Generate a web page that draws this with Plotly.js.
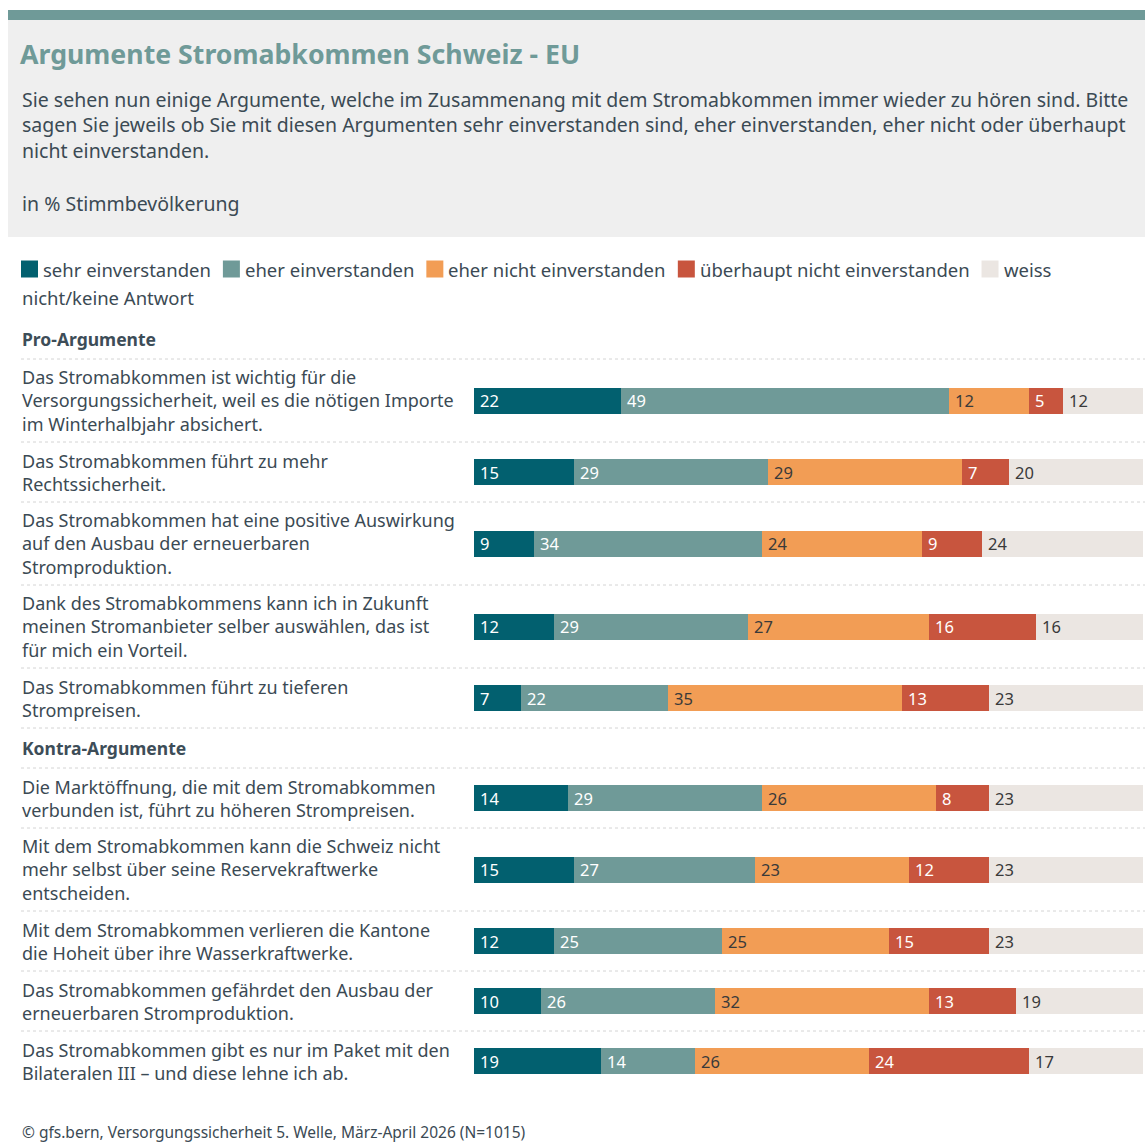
<!DOCTYPE html>
<html><head><meta charset="utf-8">
<script src="https://cdn.plot.ly/plotly-3.0.1.min.js"></script>
<style>html,body{margin:0;padding:0;background:#fff}#chart{width:1145px;height:1144px}</style>
</head><body><div id="chart"></div>
<script>
// ---------------- DATA ----------------
const chartTitle = "Argumente Stromabkommen Schweiz - EU";
const subtitle = "Sie sehen nun einige Argumente, welche im Zusammenang mit dem Stromabkommen immer wieder zu hören sind. Bitte<br>sagen Sie jeweils ob Sie mit diesen Argumenten sehr einverstanden sind, eher einverstanden, eher nicht oder überhaupt<br>nicht einverstanden.";
const unitNote = "in % Stimmbevölkerung";
const sourceNote = "© gfs.bern, Versorgungssicherheit 5. Welle, März-April 2026 (N=1015)";
const groupNames = ["Pro-Argumente", "Kontra-Argumente"];
const proArguments = [
  "Das Stromabkommen ist wichtig für die<br>Versorgungssicherheit, weil es die nötigen Importe<br>im Winterhalbjahr absichert.",
  "Das Stromabkommen führt zu mehr<br>Rechtssicherheit.",
  "Das Stromabkommen hat eine positive Auswirkung<br>auf den Ausbau der erneuerbaren<br>Stromproduktion.",
  "Dank des Stromabkommens kann ich in Zukunft<br>meinen Stromanbieter selber auswählen, das ist<br>für mich ein Vorteil.",
  "Das Stromabkommen führt zu tieferen<br>Strompreisen."
];
const kontraArguments = [
  "Die Marktöffnung, die mit dem Stromabkommen<br>verbunden ist, führt zu höheren Strompreisen.",
  "Mit dem Stromabkommen kann die Schweiz nicht<br>mehr selbst über seine Reservekraftwerke<br>entscheiden.",
  "Mit dem Stromabkommen verlieren die Kantone<br>die Hoheit über ihre Wasserkraftwerke.",
  "Das Stromabkommen gefährdet den Ausbau der<br>erneuerbaren Stromproduktion.",
  "Das Stromabkommen gibt es nur im Paket mit den<br>Bilateralen III – und diese lehne ich ab."
];
const seriesNames = ["sehr einverstanden", "eher einverstanden", "eher nicht einverstanden", "überhaupt nicht einverstanden", "weiss nicht/keine Antwort"];
const sehrEinverstanden      = [22, 15,  9, 12,  7, 14, 15, 12, 10, 19];
const eherEinverstanden      = [49, 29, 34, 29, 22, 29, 27, 25, 26, 14];
const eherNichtEinverstanden = [12, 29, 24, 27, 35, 26, 23, 25, 32, 26];
const ueberhauptNicht        = [ 5,  7,  9, 16, 13,  8, 12, 15, 13, 24];
const weissNicht             = [12, 20, 24, 16, 23, 23, 23, 23, 19, 17];

// ---------------- STYLE ----------------
const W = 1145, H = 1144;
const FONT = "'Noto Sans', Roboto, sans-serif";
const TEXT = "#3b4a54";
const colors = ["#02606f", "#6f9a98", "#f29d55", "#c8553e", "#ebe6e2"];
const labelColors = ["#ffffff", "#ffffff", "#3a3a3a", "#ffffff", "#3a3a3a"];
const series = [sehrEinverstanden, eherEinverstanden, eherNichtEinverstanden, ueberhauptNicht, weissNicht];
const px = v => v / W;

// ---------------- LAYOUT COMPUTATION ----------------
const groups = [proArguments, kontraArguments];
const LINE = 23, PAD = 14, HEAD = 40;
let cur = 319;
const rowY = [], rowLabels = [], sepY = [], headY = [];
groups.forEach((g, gi) => {
  headY.push(cur + HEAD / 2);
  cur += HEAD;
  sepY.push(cur);
  g.forEach((lab, i) => {
    const lines = lab.split("<br>").length;
    const h = LINE * lines + PAD;
    rowY.push(cur + h / 2);
    rowLabels.push(lab);
    cur += h;
    const last = gi === groups.length - 1 && i === g.length - 1;
    if (!last) sepY.push(cur);
  });
});

const shapes = [];
const annotations = [];
shapes.push({type: "rect", xref: "paper", yref: "y", x0: px(8), x1: 1, y0: 10, y1: 20, fillcolor: "#6f9a98", line: {width: 0}, layer: "below"});
shapes.push({type: "rect", xref: "paper", yref: "y", x0: px(8), x1: 1, y0: 20, y1: 237, fillcolor: "#efefef", line: {width: 0}, layer: "below"});
sepY.forEach(y => shapes.push({type: "line", xref: "paper", yref: "y", x0: px(21), x1: 1, y0: y, y1: y, line: {color: "#d4d4d4", width: 1, dash: "dot"}, layer: "below"}));

const ann = (o) => Object.assign({showarrow: false, xref: "paper", yref: "y", xanchor: "left", yanchor: "middle", align: "left", borderpad: 0}, o);
annotations.push(ann({x: px(19), y: 53, text: "<b>" + chartTitle + "</b>", font: {family: FONT, size: 26.7, color: "#6f9a98"}}));
annotations.push(ann({x: px(21), y: 125, text: subtitle, font: {family: FONT, size: 19.5, color: TEXT}}));
annotations.push(ann({x: px(21), y: 203, text: unitNote, font: {family: FONT, size: 19.5, color: TEXT}}));
annotations.push(ann({x: px(21), y: 1132, text: sourceNote, font: {family: FONT, size: 15.5, color: TEXT}}));
groupNames.forEach((g, i) => annotations.push(ann({x: px(21), y: headY[i], text: "<b>" + g + "</b>", font: {family: FONT, size: 17.5, color: "#3d4d58"}})));
rowLabels.forEach((lab, i) => annotations.push(ann({x: px(21), y: rowY[i], text: lab, font: {family: FONT, size: 18, color: TEXT}})));

// custom legend (flow with wrapping)
const LEG_SIZE = 18.5;
const ctx = document.createElement("canvas").getContext("2d");
ctx.font = LEG_SIZE + "px 'Noto Sans'";
const measure = t => ctx.measureText(t).width;
let lx = 21, ly = 269;
const LEG_RIGHT = 1140, SQ = 17, GAP = 4, ITEM_GAP = 13, LEG_LINE = 28;
seriesNames.forEach((name, si) => {
  if (lx + SQ + GAP + measure(name.split(" ")[0]) > LEG_RIGHT) { lx = 21; ly += LEG_LINE; }
  shapes.push({type: "rect", xref: "paper", yref: "y", x0: px(lx), x1: px(lx + SQ), y0: ly - SQ / 2, y1: ly + SQ / 2, fillcolor: colors[si], line: {width: 0}});
  lx += SQ + GAP;
  let lineText = "";
  let startX = lx;
  name.split(" ").forEach(word => {
    const candidate = lineText ? lineText + " " + word : word;
    if (startX + measure(candidate) > LEG_RIGHT && lineText) {
      annotations.push(ann({x: px(startX), y: ly, text: lineText, font: {family: FONT, size: LEG_SIZE, color: TEXT}}));
      ly += LEG_LINE; startX = 21; lineText = word;
    } else lineText = candidate;
  });
  annotations.push(ann({x: px(startX), y: ly, text: lineText, font: {family: FONT, size: LEG_SIZE, color: TEXT}}));
  lx = startX + measure(lineText) + ITEM_GAP;
});

// bars and value labels
const traces = series.map((vals, si) => ({
  type: "bar", orientation: "h", name: seriesNames[si],
  x: vals, y: rowY, width: 26,
  marker: {color: colors[si], line: {width: 0}},
  hoverinfo: "skip", showlegend: false
}));
rowY.forEach((y, i) => {
  let acc = 0;
  series.forEach((vals, si) => {
    annotations.push({x: acc, y: y, xref: "x", yref: "y", text: String(vals[i]), showarrow: false,
      xanchor: "left", yanchor: "middle", xshift: 5, borderpad: 0,
      font: {family: FONT, size: 16.5, color: labelColors[si]}});
    acc += vals[i];
  });
});

const layout = {
  width: W, height: H,
  margin: {l: 0, r: 0, t: 0, b: 0},
  paper_bgcolor: "#ffffff", plot_bgcolor: "rgba(0,0,0,0)",
  barmode: "stack", bargap: 0,
  showlegend: false,
  xaxis: {domain: [474 / W, 1143 / W], range: [0, 100], visible: false, fixedrange: true},
  yaxis: {domain: [0, 1], range: [H, 0], visible: false, fixedrange: true},
  shapes: shapes, annotations: annotations,
  font: {family: FONT, color: TEXT}
};
Plotly.newPlot("chart", traces, layout, {staticPlot: true, displayModeBar: false});
</script></body></html>
